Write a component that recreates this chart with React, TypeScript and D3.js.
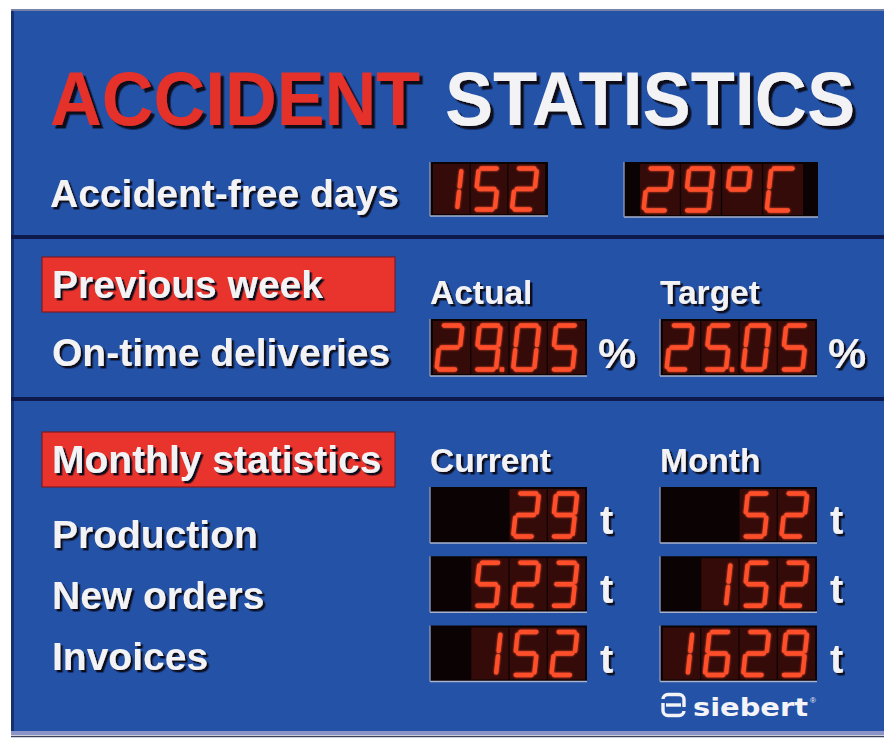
import React from 'react';
import * as d3 from 'd3';

const W = 884;
const H = 738;

// ---- data ----
const titleWords = ['ACCIDENT', 'STATISTICS'];
const accidentLabel = 'Accident-free days';
const accidentFreeDays = '152';
const temperatureValue = '29°C';
const sectionHeaders = ['Previous week', 'Monthly statistics'];
const deliveryLabel = 'On-time deliveries';
const deliveryColumns = ['Actual', 'Target'];
const deliveryValues = ['29.05', '25.05'];
const deliveryUnit = '%';
const monthlyColumns = ['Current', 'Month'];
const monthlyRows = ['Production', 'New orders', 'Invoices'];
const currentValues = ['29', '523', '152'];
const monthValues = ['52', '152', '1629'];
const monthlyUnit = 't';
const brand = 'siebert';

const SEG: Record<string, string> = {
  '0': 'abcdef', '1': 'bc', '2': 'abdeg', '3': 'abcdg', '4': 'bcfg',
  '5': 'acdfg', '6': 'acdefg', '7': 'abc', '8': 'abcdefg', '9': 'abcdfg',
  'C': 'adef', '°': 'abfg', ' ': '',
};

const FONT = '"Liberation Sans", Arial, Helvetica, sans-serif';
const BLUE = '#2352a7';
const NAVY = '#0e1a4b';
const RED = '#e8342c';
const LED = '#ff4f2c';

type Ch = { c: string; dot: boolean };
function parseChars(v: string): Ch[] {
  const out: Ch[] = [];
  for (const c of v) {
    if (c === '.') { if (out.length) out[out.length - 1].dot = true; }
    else out.push({ c, dot: false });
  }
  return out;
}

function Glyph({ ch, x, y, w, h }: { ch: Ch; x: number; y: number; w: number; h: number }) {
  const s = 0.11;
  const ins = 2.6;
  const gw = ch.c === '°' ? w * 0.85 : w;
  const hh = h / 2;
  const P = (px: number, py: number) => [x + px + (h - py) * s, y + py];
  const segs: Record<string, number[][]> = {
    a: [[ins, 0], [gw - ins, 0]],
    b: [[gw, ins], [gw, hh - ins]],
    c: [[gw, hh + ins], [gw, h - ins]],
    d: [[ins, h], [gw - ins, h]],
    e: [[0, hh + ins], [0, h - ins]],
    f: [[0, ins], [0, hh - ins]],
    g: [[ins, hh], [gw - ins, hh]],
  };
  const on = SEG[ch.c] || '';
  const line = d3.line();
  return (
    <g>
      {on.split('').map((k) => {
        const pts = segs[k].map(([px, py]) => P(px, py)) as [number, number][];
        return (
          <path key={k} d={line(pts) || ''} stroke={LED} strokeWidth={4.3}
            strokeLinecap="round" fill="none" />
        );
      })}
      {ch.dot && (() => {
        const [dx, dy] = P(gw + 6, h);
        return <rect x={dx - 2.2} y={dy - 2.2} width={4.4} height={4.4} fill={LED} />;
      })()}
    </g>
  );
}

function Display({ value, x, y, w, h, n, padL, padR }: {
  value: string; x: number; y: number; w: number; h: number; n: number; padL: number; padR: number;
}) {
  const chars = parseChars(value);
  const band = d3.scaleBand<number>().domain(d3.range(n)).range([x + padL, x + w - padR]).paddingInner(0.03);
  const offset = n - chars.length;
  return (
    <g>
      <rect x={x} y={y} width={w} height={h} fill="#0b0303" />
      {chars.map((ch, i) => (
        <rect key={'c' + i} x={band(i + offset)!} y={y + 2} width={band.bandwidth()} height={h - 4}
          fill="#340b09" />
      ))}
      <g filter="url(#glow)">
        {chars.map((ch, i) => (
          <Glyph key={'g' + i} ch={ch} x={band(i + offset)! + 3.5} y={y + 6.5}
            w={band.bandwidth() - 16} h={h - 13} />
        ))}
      </g>
      <line x1={x} x2={x + w} y1={y + h} y2={y + h} stroke="#aab3cf" strokeWidth={1.6} />
      <line x1={x} x2={x} y1={y} y2={y + h} stroke="#8c97bb" strokeWidth={1.4} />
    </g>
  );
}

function SText({ x, y, size, children, fill = '#f3f3f6', len, big = false }: any) {
  const common: any = {
    fontFamily: FONT, fontWeight: 700, fontSize: size,
  };
  if (len) { common.textLength = len; common.lengthAdjust = 'spacingAndGlyphs'; }
  return (
    <text x={x} y={y} fill={fill} filter={big ? 'url(#shBig)' : 'url(#sh)'} {...common}>{children}</text>
  );
}

export default function App() {
  const colX = d3.scalePoint<string>().domain(deliveryColumns).range([430, 660]);
  const monX = d3.scalePoint<string>().domain(monthlyColumns).range([430, 660]);
  const rowLabelY = d3.scalePoint<string>().domain(monthlyRows).range([548, 670]);
  const rowBoxY = d3.scalePoint<string>().domain(monthlyRows).range([487, 625.5]);
  const monthlyData = [currentValues, monthValues];
  const headerY = d3.scalePoint<string>().domain(sectionHeaders).range([257, 432]);

  return (
    <svg width={W} height={H} style={{ position: 'absolute', left: 0, top: 0, background: '#fff' }}>
      <defs>
        <filter id="glow" x="-20%" y="-20%" width="140%" height="140%">
          <feGaussianBlur stdDeviation="1.3" result="b" />
          <feMerge><feMergeNode in="b" /><feMergeNode in="SourceGraphic" /></feMerge>
        </filter>
        <filter id="sh" x="-5%" y="-20%" width="115%" height="150%">
          <feDropShadow dx="2.4" dy="2.4" stdDeviation="0.5" floodColor="#07081a" floodOpacity="1" />
        </filter>
        <filter id="shBig" x="-5%" y="-20%" width="115%" height="150%">
          <feDropShadow dx="3.5" dy="3.5" stdDeviation="0.6" floodColor="#07081a" floodOpacity="1" />
        </filter>
      </defs>
      {/* board */}
      <rect x={0} y={0} width={W} height={H} fill="#ffffff" />
      <rect x={11} y={9} width={W} height={726} fill="#8a94c9" />
      <rect x={11} y={11} width={W} height={720} fill={BLUE} />
      <line x1={11} x2={W} y1={10} y2={10} stroke="#7682a8" strokeWidth={2} />
      <rect x={11} y={11} width={3} height={720} fill="#17306e" />
      <line x1={11} x2={W} y1={736.5} y2={736.5} stroke="#3a4260" strokeWidth={1.5} />
      {/* dividers */}
      <rect x={11} y={235} width={W} height={4} fill={NAVY} />
      <rect x={11} y={397} width={W} height={4} fill={NAVY} />

      {/* title */}
      <SText x={50} y={125} size={76} fill="#e4312b" len={370} big>{titleWords[0]}</SText>
      <SText x={445} y={125} size={76} len={410} big>{titleWords[1]}</SText>

      {/* accident-free row */}
      <SText x={50} y={207} size={39}>{accidentLabel}</SText>
      <Display value={accidentFreeDays} x={430} y={162} w={118} h={54} n={3} padL={3} padR={3} />
      <Display value={temperatureValue} x={624} y={162} w={194} h={55} n={4} padL={16} padR={15} />

      {/* section headers */}
      {sectionHeaders.map((s) => (
        <g key={s}>
          <rect x={42} y={headerY(s)!} width={353} height={55} fill={RED} stroke="#7d1c24" strokeWidth={1.2} />
          <SText x={52} y={headerY(s)! + 41} size={39}>{s}</SText>
        </g>
      ))}

      {/* deliveries */}
      <SText x={52} y={366} size={39}>{deliveryLabel}</SText>
      {deliveryColumns.map((c, i) => (
        <g key={c}>
          <SText x={colX(c)!} y={304} size={33.5}>{c}</SText>
          <Display value={deliveryValues[i]} x={colX(c)!} y={319} w={157} h={57} n={4} padL={3} padR={2} />
          <SText x={colX(c)! + 168} y={368} size={43}>{deliveryUnit}</SText>
        </g>
      ))}

      {/* monthly */}
      {monthlyColumns.map((c) => (
        <SText key={c} x={monX(c)!} y={472} size={33.5}>{c}</SText>
      ))}
      {monthlyRows.map((r, ri) => (
        <g key={r}>
          <SText x={52} y={rowLabelY(r)!} size={39}>{r}</SText>
          {monthlyColumns.map((c, ci) => (
            <g key={c}>
              <Display value={monthlyData[ci][ri]} x={monX(c)!} y={rowBoxY(r)!} w={157} h={56} n={4} padL={3} padR={2} />
              <SText x={monX(c)! + 170} y={rowBoxY(r)! + 47} size={40}>{monthlyUnit}</SText>
            </g>
          ))}
        </g>
      ))}

      {/* logo */}
      <g>
        <rect x={663} y={694.5} width={21} height={21} rx={5} fill="none" stroke="#f4f4f8" strokeWidth={3.4} />
        <line x1={666} x2={681} y1={705} y2={705} stroke="#f4f4f8" strokeWidth={3.4} />
        <rect x={661} y={699} width={4} height={4} fill={BLUE} />
        <rect x={682} y={707} width={4} height={4} fill={BLUE} />
        <text x={693} y={716} fill="#f4f4f8" fontFamily={'"DejaVu Sans", sans-serif'} fontWeight={700}
          fontSize={25} textLength={115} lengthAdjust="spacingAndGlyphs">{brand}</text>
        <text x={810} y={703} fill="#f4f4f8" fontFamily={FONT} fontSize={8}>®</text>
      </g>
    </svg>
  );
}
